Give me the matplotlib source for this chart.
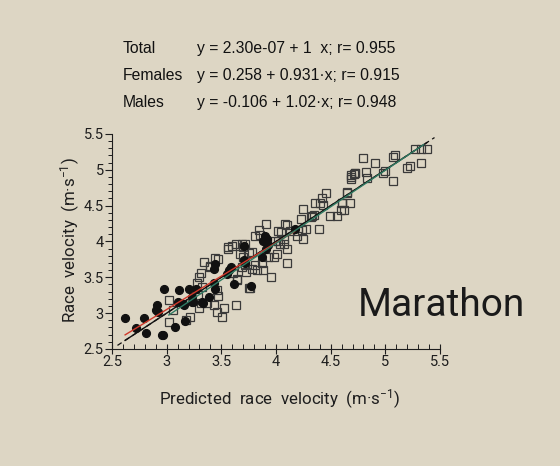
import numpy as np
import matplotlib
matplotlib.use("Agg")
import matplotlib.pyplot as plt
from matplotlib.ticker import MultipleLocator

# -------------------------------------------------
# Data
# -------------------------------------------------
female_x = [2.62, 2.72, 2.79, 2.81, 2.90, 2.91, 2.92, 2.96, 2.97, 2.98,
            3.08, 3.10, 3.11, 3.15, 3.16, 3.17, 3.20, 3.23, 3.23, 3.24,
            3.27, 3.32, 3.33, 3.39, 3.43, 3.43, 3.44, 3.44, 3.55, 3.57,
            3.59, 3.62, 3.71, 3.71, 3.72, 3.77, 3.87, 3.88, 3.90, 3.91,
            3.93, 3.92, 4.17]
female_y = [2.93, 2.79, 2.93, 2.73, 3.04, 3.12, 3.01, 2.70, 2.70, 3.34,
            2.81, 3.15, 3.32, 3.13, 3.12, 2.89, 3.34, 3.23, 3.15, 3.16,
            3.34, 3.15, 3.14, 3.23, 3.42, 3.62, 3.68, 3.34, 3.55, 3.60,
            3.65, 3.41, 3.74, 3.94, 3.70, 3.38, 3.78, 4.01, 4.08, 3.90,
            3.95, 4.03, 4.18]

male_x = [3.02, 3.02, 3.06, 3.18, 3.21, 3.28, 3.29, 3.30, 3.30, 3.31,
          3.31, 3.32, 3.34, 3.37, 3.40, 3.40, 3.43, 3.44, 3.46, 3.46,
          3.47, 3.47, 3.51, 3.52, 3.56, 3.56, 3.60, 3.61, 3.63, 3.63,
          3.64, 3.64, 3.67, 3.69, 3.69, 3.70, 3.70, 3.72, 3.72, 3.73,
          3.75, 3.75, 3.76, 3.78, 3.78, 3.81, 3.81, 3.83, 3.84, 3.85,
          3.87, 3.88, 3.91, 3.93, 3.95, 3.98, 3.99, 4.01, 4.02, 4.02,
          4.04, 4.05, 4.07, 4.07, 4.08, 4.10, 4.10, 4.10, 4.13, 4.19,
          4.20, 4.23, 4.24, 4.25, 4.25, 4.27, 4.32, 4.33, 4.35, 4.36,
          4.39, 4.40, 4.42, 4.43, 4.46, 4.49, 4.56, 4.59, 4.60, 4.60,
          4.62, 4.65, 4.65, 4.68, 4.69, 4.69, 4.69, 4.71, 4.72, 4.72,
          4.80, 4.82, 4.83, 4.91, 4.98, 5.00, 5.07, 5.07, 5.09, 5.20,
          5.23, 5.27, 5.33, 5.33, 5.38]
male_y = [3.19, 2.87, 3.04, 2.90, 2.95, 3.42, 3.23, 3.50, 3.07, 3.56,
          3.14, 3.37, 3.71, 3.14, 3.65, 3.66, 3.11, 3.77, 3.32, 3.02,
          3.24, 3.76, 2.95, 3.07, 3.90, 3.92, 3.94, 3.56, 3.97, 3.12,
          3.47, 3.46, 3.83, 3.97, 3.65, 3.92, 3.79, 3.96, 3.67, 3.58,
          3.84, 3.35, 3.35, 3.86, 3.61, 3.67, 4.07, 3.60, 4.16, 4.09,
          3.70, 3.60, 4.24, 3.79, 3.51, 3.79, 4.00, 3.83, 4.14, 4.00,
          3.97, 4.13, 3.97, 4.04, 4.25, 3.90, 4.23, 3.70, 4.14, 4.07,
          4.14, 4.31, 4.16, 4.04, 4.45, 4.18, 4.34, 4.35, 4.37, 4.53,
          4.18, 4.53, 4.60, 4.51, 4.68, 4.35, 4.35, 4.44, 4.54, 4.53,
          4.44, 4.69, 4.68, 4.53, 4.93, 4.90, 4.87, 4.94, 4.95, 4.96,
          5.17, 4.97, 4.89, 5.09, 4.95, 4.98, 4.84, 5.18, 5.21, 5.02,
          5.05, 5.29, 5.29, 5.10, 5.29]

# regression coefficients shown in the header
fits = {
    "Total": (2.30e-07, 1.0, 0.955),
    "Females": (0.258, 0.931, 0.915),
    "Males": (-0.106, 1.02, 0.948),
}
header_eq = [
    ("Total", "y = 2.30e-07 + 1  x; r= 0.955"),
    ("Females", "y = 0.258 + 0.931·x; r= 0.915"),
    ("Males", "y = -0.106 + 1.02·x; r= 0.948"),
]
tick_vals = [2.5, 3, 3.5, 4, 4.5, 5, 5.5]
tick_text = ["2.5", "3", "3.5", "4", "4.5", "5", "5.5"]

AX_MIN, AX_MAX = 2.5, 5.5

# -------------------------------------------------
# Style
# -------------------------------------------------
BG = "#ddd6c4"
INK = "#1e1e1e"
COND = ["Roboto", "DejaVu Sans"]
plt.rcParams["mathtext.fontset"] = "custom"
plt.rcParams["mathtext.rm"] = "Roboto"
plt.rcParams["mathtext.it"] = "Roboto"

fig = plt.figure(figsize=(5.6, 4.66), dpi=100, facecolor=BG)
ax = fig.add_axes([0.2, 0.2511, 0.5857, 0.4614], facecolor=BG)

# -------------------------------------------------
# Points
# -------------------------------------------------
ax.plot(male_x, male_y, "s", ms=5.2, mfc="none", mec="#3a3a3a", mew=0.9,
        zorder=3)
ax.plot(female_x, female_y, "o", ms=5.6, color="#111111", zorder=4)

# -------------------------------------------------
# Regression lines
# -------------------------------------------------
all_x = np.array(female_x + male_x)
xi = np.array([AX_MIN + 0.05, AX_MAX - 0.05])
ax.plot(xi, xi, "--", color="#111111", lw=0.9, dashes=(4, 3), zorder=2)

b0, b1, _ = fits["Total"]
xt = np.array([all_x.min(), all_x.max()])
ax.plot(xt, b0 + b1 * xt, "-", color="#111111", lw=1.0, zorder=5)

b0, b1, _ = fits["Females"]
xf = np.array([min(female_x), max(female_x)])
ax.plot(xf, b0 + b1 * xf, "-", color="#d0392b", lw=1.0, zorder=5)

b0, b1, _ = fits["Males"]
xm = np.array([min(male_x), max(male_x) - 0.03])
ax.plot(xm, b0 + b1 * xm, "-", color="#2f7a62", lw=1.0, zorder=5)

# -------------------------------------------------
# Axes
# -------------------------------------------------
ax.set_xlim(AX_MIN, AX_MAX)
ax.set_ylim(AX_MIN, AX_MAX)
for s in ["top", "right"]:
    ax.spines[s].set_visible(False)
for s in ["left", "bottom"]:
    ax.spines[s].set_color(INK)
    ax.spines[s].set_linewidth(0.8)

ax.xaxis.set_minor_locator(MultipleLocator(0.1))
ax.yaxis.set_minor_locator(MultipleLocator(0.1))
ax.set_xticks(tick_vals)
ax.set_xticklabels(tick_text)
ax.set_yticks(tick_vals)
ax.set_yticklabels(tick_text)

ax.tick_params(axis="x", which="major", direction="inout", length=7,
               width=0.8, colors=INK, labelsize=10.5, pad=1)
ax.tick_params(axis="x", which="minor", direction="in", length=3.5,
               width=0.7, colors=INK)
ax.tick_params(axis="y", which="major", direction="out", length=5,
               width=0.8, colors=INK, labelsize=10.5, pad=1)
ax.tick_params(axis="y", which="minor", direction="out", length=3,
               width=0.7, colors=INK)
for lab in ax.get_xticklabels() + ax.get_yticklabels():
    lab.set_family(COND)

fig.text(0.5, 0.143, "Predicted  race  velocity  (m·s$^{-1}$)",
         ha="center", va="center", fontsize=12.2, family=COND, color=INK)
fig.text(0.125, 0.485, "Race  velocity  (m·s$^{-1}$)", rotation=90,
         ha="center", va="center", fontsize=12.2, family=COND, color=INK)

fig.text(0.638, 0.345, "Marathon", ha="left", va="center", fontsize=28,
         family=COND, color="#1a1a1a")

# -------------------------------------------------
# Header with the fitted equations
# -------------------------------------------------
for i, (name, eq) in enumerate(header_eq):
    yy = 1 - (53 + 27 * i) / 466
    fig.text(123 / 560, yy, name, ha="left", va="baseline", fontsize=11.3,
             family="Liberation Sans", color="#111111")
    fig.text(197 / 560, yy, eq, ha="left", va="baseline", fontsize=11.3,
             family="Liberation Sans", color="#111111")

fig.savefig("out.png", dpi=100, facecolor=BG)
